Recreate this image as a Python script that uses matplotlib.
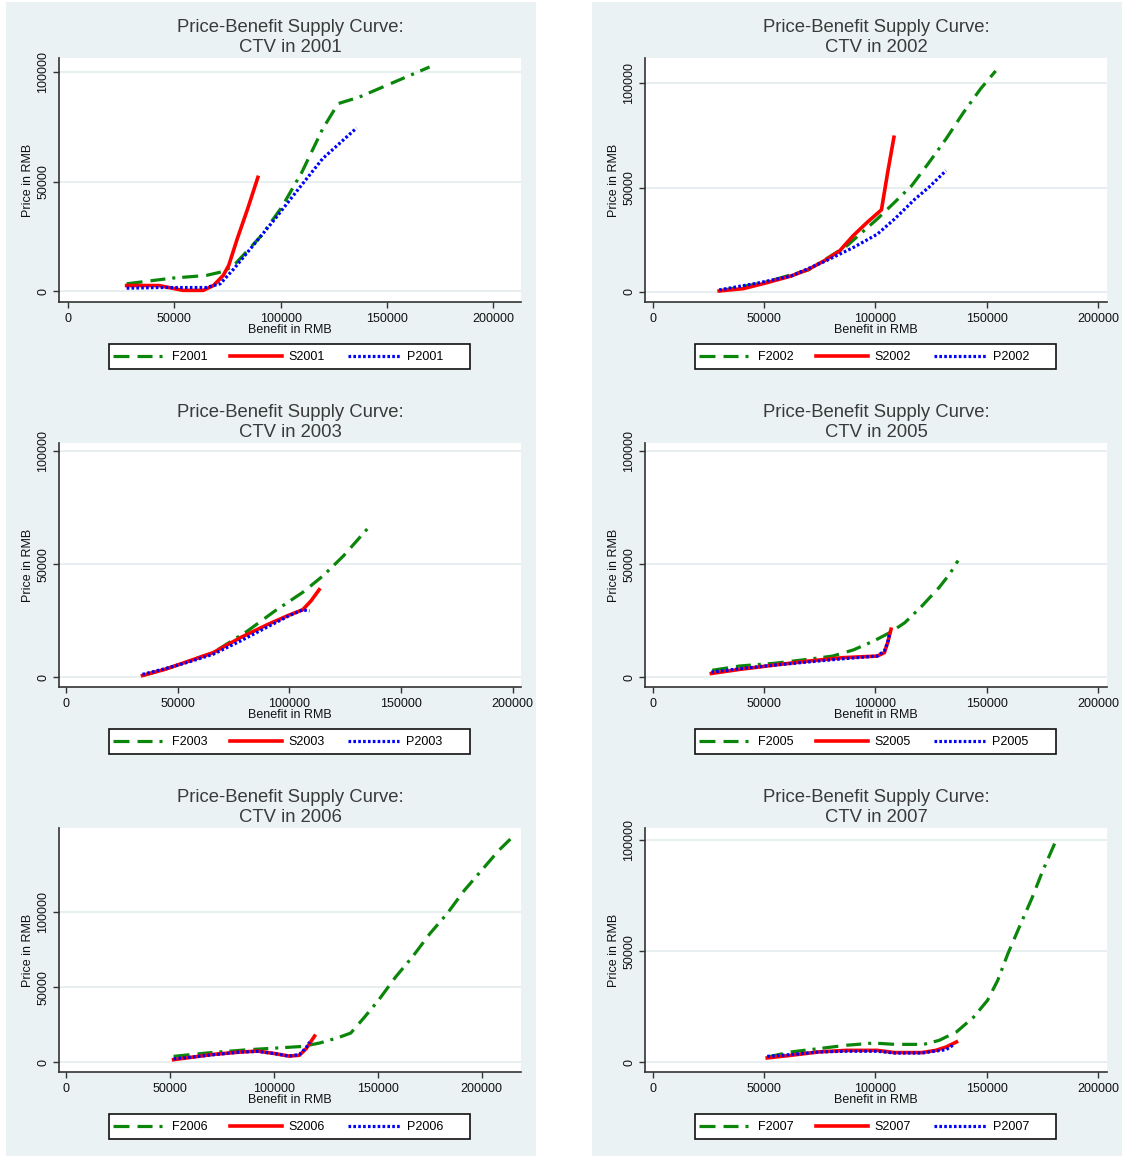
import matplotlib
matplotlib.use("Agg")
import matplotlib.pyplot as plt
from matplotlib.patches import Rectangle

plt.rcParams["font.family"] = ["Liberation Sans", "DejaVu Sans"]
plt.rcParams["lines.scale_dashes"] = False

# ---- data (benefit in RMB, price in RMB) ----
YEARS = ["2001", "2002", "2003", "2005", "2006", "2007"]

f2001_benefit = [27600, 49200, 65000, 73000, 78000, 91000, 100500, 110000, 119700, 127000, 137000, 150000, 170000]
f2001_price = [3500, 6100, 7300, 9100, 11900, 25500, 38400, 54400, 74000, 85600, 88600, 94000, 102300]
s2001_benefit = [27600, 42800, 49000, 54000, 63600, 68400, 73000, 75600, 79600, 84500, 89300]
s2001_price = [2700, 2700, 1500, 500, 500, 2700, 7300, 11900, 24000, 37700, 52000]
p2001_benefit = [27600, 42800, 65000, 71600, 78000, 87700, 97300, 107000, 119700, 135700]
p2001_price = [1500, 1800, 1800, 3500, 10300, 21700, 33000, 45000, 60500, 74500]

f2002_benefit = [29800, 49900, 70000, 87000, 100800, 108600, 116300, 124000, 131700, 139500, 147200, 154000]
f2002_price = [500, 4500, 10600, 22000, 35000, 43000, 51000, 62000, 73400, 86000, 97400, 106000]
s2002_benefit = [29800, 40600, 51400, 62200, 70000, 77700, 83900, 90000, 96200, 102700, 105500, 108300]
s2002_price = [500, 1600, 4500, 7700, 10900, 15400, 19700, 27000, 33300, 39400, 57400, 74200]
p2002_benefit = [29800, 46800, 62200, 77700, 90000, 100800, 108600, 117800, 124000, 131700]
p2002_price = [1000, 4200, 7700, 14900, 21300, 27700, 35000, 44600, 50200, 58200]

f2003_benefit = [34200, 44200, 55000, 65800, 81200, 93500, 105900, 115100, 124300, 135100]
f2003_price = [700, 3400, 7100, 10800, 20400, 29300, 37500, 44900, 53800, 65900]
s2003_benefit = [34200, 44200, 55000, 65800, 78100, 90500, 99700, 105900, 109700, 113300]
s2003_price = [700, 3400, 7100, 10800, 17500, 23400, 27400, 29800, 33800, 38700]
p2003_benefit = [34200, 44200, 55000, 65800, 78100, 90500, 99700, 105900, 109000]
p2003_price = [1200, 3700, 6700, 10100, 16000, 22400, 27100, 29800, 29300]

f2005_benefit = [26700, 39000, 54500, 70000, 80800, 90000, 99300, 107000, 113200, 121000, 128600, 133300, 137100]
f2005_price = [3000, 4900, 6100, 7900, 9300, 12000, 16000, 20000, 24100, 31600, 39700, 45600, 51600]
s2005_benefit = [26300, 39000, 54500, 70000, 85400, 100800, 104000, 105500, 107000]
s2005_price = [1600, 3400, 5300, 7100, 8600, 9300, 10800, 15300, 21200]
p2005_benefit = [26300, 39000, 54500, 70000, 85400, 100800, 104000, 105500, 106300]
p2005_price = [2200, 3700, 5300, 6700, 8100, 9300, 11600, 15300, 19000]

f2006_benefit = [51700, 67400, 87300, 100600, 113800, 122100, 130400, 137000, 143700, 150300,
                 158600, 166900, 175100, 183400, 191700, 200000, 208300, 215200]
f2006_price = [4000, 6200, 8400, 9500, 10600, 12900, 16200, 19500, 30200, 41200,
               56800, 70500, 85600, 98900, 114400, 127700, 141000, 150300]
s2006_benefit = [51700, 60800, 70800, 84000, 92300, 100600, 107200, 112200, 115500, 119600]
s2006_price = [1800, 3500, 5300, 6900, 7500, 5800, 4200, 4700, 9100, 17500]
p2006_benefit = [51700, 60800, 70800, 84000, 92300, 100600, 107200, 112200, 115500, 117200]
p2006_price = [2400, 3500, 5100, 6900, 7300, 5800, 4200, 5100, 9800, 13500]

f2007_benefit = [51400, 62200, 74600, 87000, 99300, 108600, 121700, 128600, 136400, 144100,
                 150300, 154900, 159500, 164200, 170300, 175000, 181900]
f2007_price = [2400, 4700, 6200, 7700, 8700, 8100, 8100, 9900, 13700, 20400,
               27900, 36900, 49000, 60000, 74000, 86000, 101800]
s2007_benefit = [51400, 62200, 74600, 87000, 100800, 108600, 120900, 127100, 131700, 136400]
s2007_price = [2000, 3200, 4700, 5400, 5400, 4400, 4400, 5400, 6900, 9200]
p2007_benefit = [51400, 62200, 74600, 87000, 100800, 108600, 120900, 127100, 131700, 134800]
p2007_price = [2700, 3500, 4700, 5000, 5000, 4200, 4200, 5100, 5700, 7700]

SERIES = {
    "2001": ((f2001_benefit, f2001_price), (s2001_benefit, s2001_price), (p2001_benefit, p2001_price)),
    "2002": ((f2002_benefit, f2002_price), (s2002_benefit, s2002_price), (p2002_benefit, p2002_price)),
    "2003": ((f2003_benefit, f2003_price), (s2003_benefit, s2003_price), (p2003_benefit, p2003_price)),
    "2005": ((f2005_benefit, f2005_price), (s2005_benefit, s2005_price), (p2005_benefit, p2005_price)),
    "2006": ((f2006_benefit, f2006_price), (s2006_benefit, s2006_price), (p2006_benefit, p2006_price)),
    "2007": ((f2007_benefit, f2007_price), (s2007_benefit, s2007_price), (p2007_benefit, p2007_price)),
}

X_TICKS = [0, 50000, 100000, 150000, 200000]
Y_TICKS = [0, 50000, 100000]
# axis ranges as Stata chose them for each panel
X_LIMITS = [(-4200, 213000), (-3500, 204000), (-3200, 203700), (-3500, 204000), (-3500, 219000), (-3500, 204000)]
Y_LIMITS = [(-4800, 106400), (-4800, 112200), (-4400, 103700), (-4400, 103700), (-6400, 155900), (-4350, 105600)]

BG = "#EAF2F3"
GREEN = "#0A860A"
RED = "#FF0000"
BLUE = "#0000FF"
AXIS = "#333333"

W, H = 1125, 1156


def rect(left, top, right, bottom):
    return [left / W, 1 - bottom / H, (right - left) / W, (bottom - top) / H]


fig = plt.figure(figsize=(W / 100, H / 100), dpi=100)
for x0 in (6, 592):
    fig.add_artist(Rectangle((x0 / W, 0), 530 / W, 1154 / H, transform=fig.transFigure,
                             facecolor=BG, edgecolor="none", zorder=0))

for i, year in enumerate(YEARS):
    dx = 586 * (i % 2)
    dy = 385 * (i // 2)
    ax = fig.add_axes(rect(59 + dx, 58 + dy, 521 + dx, 302 + dy))
    ax.set_facecolor("white")

    (fx, fy), (sx, sy), (px, py) = SERIES[year]
    lf, = ax.plot(fx, fy, color=GREEN, lw=2.3, label="F" + year,
                  dashes=(11.5, 5.8, 10.8, 5.0, 2.2, 5.0))
    ls, = ax.plot(sx, sy, color=RED, lw=2.6, label="S" + year, solid_joinstyle="round")
    lp, = ax.plot(px, py, color=BLUE, lw=2.3, label="P" + year, dashes=(1.9, 1.6))

    ax.set_xlim(*X_LIMITS[i])
    ax.set_ylim(*Y_LIMITS[i])
    ax.set_xticks(X_TICKS)
    ax.set_yticks(Y_TICKS)
    ax.set_xticklabels([str(t) for t in X_TICKS])
    ax.set_yticklabels([str(t) for t in Y_TICKS], rotation=90, va="center")
    ax.yaxis.grid(True, color="#E4ECEE", lw=1.2)
    ax.set_axisbelow(True)

    for side in ("top", "right"):
        ax.spines[side].set_visible(False)
    for side in ("left", "bottom"):
        ax.spines[side].set_color(AXIS)
        ax.spines[side].set_linewidth(1.2)
    ax.tick_params(axis="both", direction="out", length=4.3, width=1.0, color=AXIS,
                   labelsize=9, labelcolor="#111111")
    ax.tick_params(axis="x", pad=3.5)
    ax.tick_params(axis="y", pad=2.5)

    ax.set_xlabel("Benefit in RMB", fontsize=9, color="#111111", va="center")
    ax.xaxis.set_label_coords(0.5, (302 - 330) / 244)
    ax.set_ylabel("Price in RMB", fontsize=9, color="#111111", va="center")
    ax.yaxis.set_label_coords((28 - 59) / 462, 0.5)

    fig.text((290 + dx) / W, 1 - (37.5 + dy) / H,
             "Price-Benefit Supply Curve:\nCTV in " + year,
             ha="center", va="center", fontsize=13.3, linespacing=1.17, color="#3A3A3A")

    # Stata-style legend box: fixed-size frame, entries packed to the left
    fig.add_artist(Rectangle(((109 + dx) / W, 1 - (369 + dy) / H), 361 / W, 25 / H,
                             transform=fig.transFigure, facecolor="white",
                             edgecolor="#111111", lw=1.2, zorder=1))
    fig.legend(handles=[lf, ls, lp], ncol=3, loc="center left",
               bbox_to_anchor=((113 + dx) / W, 1 - (357 + dy) / H),
               bbox_transform=fig.transFigure, fontsize=9, handlelength=4.15,
               handletextpad=0.56, columnspacing=1.8, borderpad=0, borderaxespad=0,
               frameon=False)

fig.savefig("out.png", dpi=100, facecolor="white")
